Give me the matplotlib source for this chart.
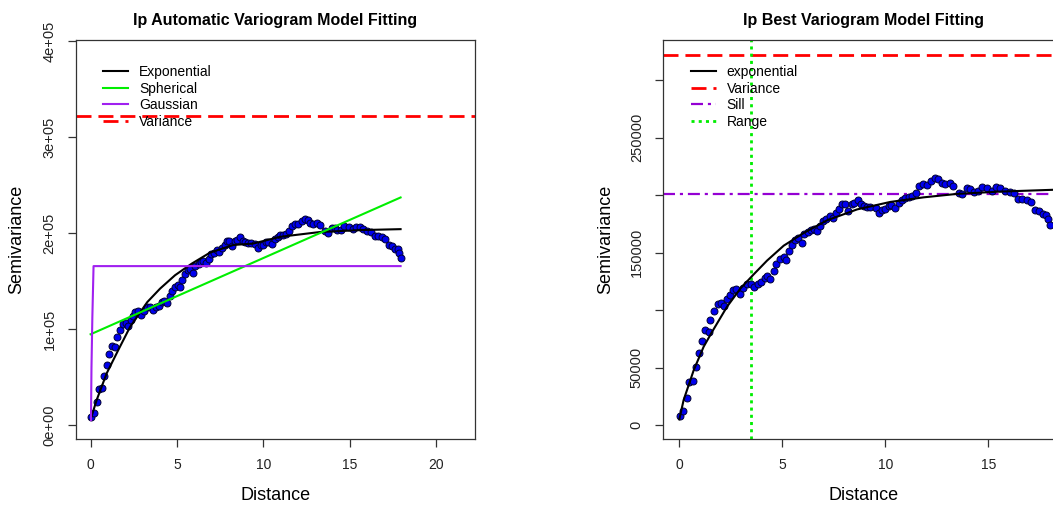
import numpy as np
import matplotlib.pyplot as plt
from matplotlib.lines import Line2D

plt.rcParams['font.family'] = ['Liberation Sans', 'DejaVu Sans']

dist = [0.02, 0.18, 0.37, 0.47, 0.65, 0.79, 0.97, 1.08, 1.25, 1.42, 1.5, 1.7, 1.86,
        2.04, 2.15, 2.31, 2.44, 2.59, 2.77, 2.93, 3.11, 3.29, 3.46, 3.64, 3.8, 3.97,
        4.14, 4.27, 4.42, 4.58, 4.69, 4.87, 5.06, 5.19, 5.32, 5.49, 5.63, 5.78, 5.94,
        6.07, 6.25, 6.39, 6.52, 6.7, 6.84, 6.98, 7.14, 7.3, 7.46, 7.61, 7.77, 7.88,
        8.04, 8.2, 8.36, 8.5, 8.66, 8.82, 8.95, 9.11, 9.27, 9.53, 9.69, 9.85, 10.0,
        10.18, 10.3, 10.49, 10.65, 10.83, 10.97, 11.15, 11.31, 11.47, 11.64, 11.83,
        12.02, 12.22, 12.41, 12.57, 12.73, 12.9, 13.12, 13.29, 13.56, 13.72, 13.97,
        14.13, 14.29, 14.51, 14.69, 14.94, 15.18, 15.39, 15.58, 15.79, 16.03, 16.23,
        16.44, 16.65, 16.88, 17.07, 17.28, 17.46, 17.65, 17.82, 17.88, 17.98]
gamma = [7.8, 12, 23.7, 37, 38.5, 50.6, 62.8, 73.5, 82.5, 81.3, 91.4, 99.2, 105.3,
         106.2, 103.3, 109.4, 113.4, 117.5, 118.3, 114.3, 119.2, 122.4, 123, 120, 122.4,
         124.4, 128.2, 129.6, 127.3, 134.3, 140, 144, 146, 143.8, 151, 156.8, 161.2,
         162.6, 158, 166, 168, 169.3, 170.4, 168.7, 173.3, 177.7, 179, 182, 180, 184,
         187.7, 191.8, 191.8, 186.3, 191.8, 193, 195.6, 192, 190.7, 190, 189.2, 188.6,
         184.6, 187.2, 188, 190.4, 191, 188.4, 193.3, 195.9, 197.6, 198.2, 199, 202.2,
         207.7, 209.8, 208.9, 212, 215, 213.8, 210.7, 209.8, 210.7, 208, 202, 200.5,
         205.7, 205.5, 203, 203.4, 206.8, 206, 203.7, 206.6, 206, 203.7, 202.5, 201.4,
         196.8, 196.4, 195.9, 193.6, 187.2, 186, 183.8, 182.9, 179.4, 173.6]
gamma = [g * 1000 for g in gamma]

# fitted models, left panel
exp_d = [0.0, 0.35, 0.93, 1.6, 2.28, 3.28, 4.02, 4.89, 5.85, 6.91, 8.26, 9.42, 10.97,
         13.28, 15.6, 17.95]
exp_g = [5.9, 26, 53.8, 78, 102, 128, 142, 156, 168, 179.5, 187.5, 189, 196, 201, 203, 204]
exp_g = [g * 1000 for g in exp_g]
sph_d = [0.0, 17.95]
sph_g = [94500, 237000]
gau_d = [0.02, 0.05, 0.1, 0.17, 17.95]
gau_g = [5000, 60000, 112000, 165500, 165500]

# best model, right panel
best_d = [0.0, 0.21, 0.7, 1.18, 1.59, 2.31, 2.96, 3.61, 4.26, 5.07, 6.04, 7.17, 8.63,
          10.24, 11.86, 13.48, 15.58, 18.2]
best_g = [4.9, 21.7, 47.7, 68, 81, 102.7, 118.6, 131, 143, 156, 167, 178, 187.5, 194,
          198, 201, 203, 204.6]
best_g = [g * 1000 for g in best_g]

variance = 322000
sill = 200500
rng = 3.5

fig = plt.figure(figsize=(10.53, 5.08), dpi=100)
ax1 = fig.add_axes([0.0722, 0.1364, 0.3789, 0.7848])
ax2 = fig.add_axes([0.6299, 0.1364, 0.3799, 0.7848])


def style(ax):
    for s in ax.spines.values():
        s.set_color('#333333')
        s.set_linewidth(0.9)
    ax.tick_params(direction='out', length=6, width=0.9, color='#333333',
                   labelsize=10, pad=8, labelcolor='#222222')
    for lab in ax.get_yticklabels():
        lab.set_rotation(90)
        lab.set_va('center')
        lab.set_fontsize(10.5)
    ax.set_xlabel('Distance', fontsize=13)
    ax.set_ylabel('Semivariance', fontsize=13)
    ax.xaxis.label.set_va('center')
    ax.yaxis.label.set_va('center')


def points(ax):
    ax.plot(dist, gamma, 'o', ms=5, mfc='#0000ee', mec='#000033', mew=0.7, zorder=3)


# left panel
points(ax1)
ax1.plot(exp_d, exp_g, color='black', lw=1.5, zorder=4)
ax1.plot(sph_d, sph_g, color='#00ee00', lw=1.5, zorder=4)
ax1.plot(gau_d, gau_g, color='#a020f0', lw=1.5, zorder=4)
ax1.axhline(variance, color='red', lw=2, dashes=(5.4, 2.5))
ax1.set_xlim(-0.845, 22.26)
ax1.set_ylim(-14300, 401000)
ax1.set_xticks([0, 5, 10, 15, 20])
ax1.set_yticks([0, 100000, 200000, 300000, 400000])
ax1.set_yticklabels(['0e+00', '1e+05', '2e+05', '3e+05', '4e+05'])
ax1.set_title('Ip Automatic Variogram Model Fitting', fontsize=11.5,
              fontweight='bold', pad=11)
style(ax1)
ax1.xaxis.set_label_coords(0.5, -0.1437)
ax1.yaxis.set_label_coords(-0.148, 0.5)
h1 = [Line2D([], [], color='black', lw=1.5),
      Line2D([], [], color='#00ee00', lw=1.5),
      Line2D([], [], color='#a020f0', lw=1.5),
      Line2D([], [], color='red', lw=2, dashes=(5.4, 2.5))]
ax1.legend(h1, ['Exponential', 'Spherical', 'Gaussian', 'Variance'],
           loc='upper left', bbox_to_anchor=(0.0677, 0.937), frameon=False,
           borderpad=0, borderaxespad=0, fontsize=10, handlelength=1.8,
           handletextpad=0.8, labelspacing=0.18)

# right panel
points(ax2)
ax2.plot(best_d, best_g, color='black', lw=1.5, zorder=4)
ax2.axhline(variance, color='red', lw=2, dashes=(5.4, 2.5))
ax2.axhline(sill, color='#9400d3', lw=1.6, dashes=(5.4, 2.2, 1.4, 2.2))
ax2.axvline(rng, color='#00ee00', lw=2, dashes=(1.1, 1.5))
ax2.set_xlim(-0.777, 18.64)
ax2.set_ylim(-11900, 334800)
ax2.set_xticks([0, 5, 10, 15])
ax2.set_yticks([0, 50000, 100000, 150000, 200000, 250000, 300000])
ax2.set_yticklabels(['0', '50000', '', '150000', '', '250000', ''])
ax2.set_title('Ip Best Variogram Model Fitting', fontsize=11.5,
              fontweight='bold', pad=11)
style(ax2)
ax2.xaxis.set_label_coords(0.5, -0.1437)
ax2.yaxis.set_label_coords(-0.143, 0.5)
h2 = [Line2D([], [], color='black', lw=1.5),
      Line2D([], [], color='red', lw=2, dashes=(5.4, 2.5)),
      Line2D([], [], color='#9400d3', lw=1.6, dashes=(5.4, 2.2, 1.4, 2.2)),
      Line2D([], [], color='#00ee00', lw=2, dashes=(1.1, 1.5))]
ax2.legend(h2, ['exponential', 'Variance', 'Sill', 'Range'],
           loc='upper left', bbox_to_anchor=(0.0685, 0.937), frameon=False,
           borderpad=0, borderaxespad=0, fontsize=10, handlelength=1.8,
           handletextpad=0.8, labelspacing=0.18)

fig.savefig('out.png', dpi=100)
